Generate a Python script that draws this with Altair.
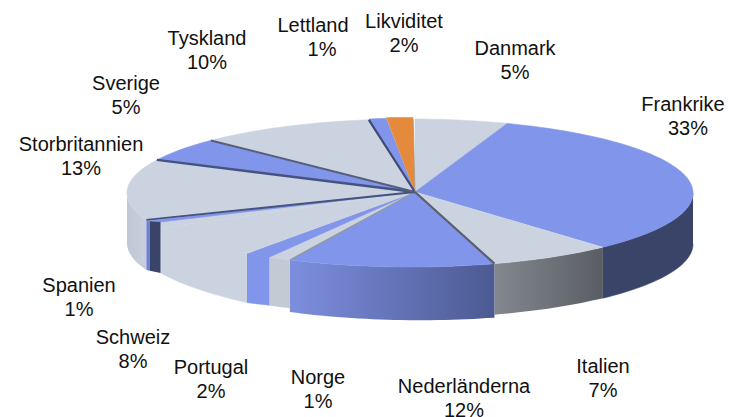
import math
import altair as alt
import pandas as pd

# Slice names, printed percentages and shares (clockwise from 12 o'clock)
names = ["Danmark", "Frankrike", "Italien", "Nederländerna", "Norge", "Portugal", "Schweiz",
         "Spanien", "Storbritannien", "Sverige", "Tyskland", "Lettland", "Likviditet"]
printed = [5, 33, 7, 12, 1, 2, 8, 1, 13, 5, 10, 1, 2]
shares = [5.3, 32.5, 7.1, 11.8, 1.3, 1.5, 7.4, 1.9, 13.3, 5.2, 10.1, 1.0, 1.5]

# Styles
GRAY, BLUE, DARK = "#CBD3E1", "#8196EA", "#3A4468"
top_colors = [GRAY, BLUE, GRAY, BLUE, GRAY, BLUE, GRAY, BLUE, GRAY, BLUE, GRAY, BLUE, "#E58A3C"]


def hgrad(a, b):
    return alt.Gradient(gradient="linear", x1=0, x2=1, y1=0, y2=0,
                        stops=[alt.GradientStop(offset=0, color=a), alt.GradientStop(offset=1, color=b)])


side_fills = {
    "Frankrike": DARK,
    "Italien": hgrad("#83888F", "#5A5E64"),
    "Nederländerna": hgrad("#7D8EDF", "#4C5A92"),
    "Norge": "#C4CAD3",
    "Portugal": BLUE,
    "Schweiz": GRAY,
    "Storbritannien": hgrad("#BFC7D5", "#C8D0DE"),
}
spanien_fill = alt.Gradient(gradient="linear", x1=0, x2=1, y1=0, y2=0, stops=[
    alt.GradientStop(offset=0, color="#6F82DA"), alt.GradientStop(offset=0.28, color="#6F82DA"),
    alt.GradientStop(offset=0.28, color=DARK), alt.GradientStop(offset=1, color=DARK)])

# Layout (page pixels)
CX, CY, RX, RY = 410.0, 193.0, 283.0, 74.0
APEX = (415.0, 192.0)
START = 1.0
wall_depth = {
    "Frankrike": (51, 51), "Italien": (51, 51), "Nederländerna": (54, 52), "Norge": (48, 48),
    "Portugal": (48, 49), "Schweiz": (49, 45), "Storbritannien": (50, 50),
}
rim_raise = {"Lettland": -0.8, "Likviditet": -1.6}
label_pos = {
    "Danmark": (515, 49), "Frankrike": (683, 105), "Italien": (603, 367),
    "Nederländerna": (464, 387), "Norge": (318, 378), "Portugal": (211, 368),
    "Schweiz": (133, 338), "Spanien": (79, 286), "Storbritannien": (81, 145),
    "Sverige": (126, 84), "Tyskland": (207, 39), "Lettland": (313, 26), "Likviditet": (404, 22),
}
pct_shift = {"Lettland": 9, "Frankrike": 5}
LINE_GAP = 23.5

xs = alt.Scale(domain=[8, 725], nice=False, zero=False)
ys = alt.Scale(domain=[417, 8], nice=False, zero=False)
X = alt.X("x:Q", scale=xs, axis=None)
Y = alt.Y("y:Q", scale=ys, axis=None)

edges = [START]
for s in shares:
    edges.append(edges[-1] + s * 3.6)


def rim(deg, dy=0.0):
    t = math.radians(deg)
    return CX + RX * math.sin(t), CY - RY * math.cos(t) + dy


def arc(a, b, dy_a=0.0, dy_b=0.0):
    n = max(2, int(abs(b - a) / 1.5) + 2)
    pts = []
    for k in range(n):
        f = k / (n - 1)
        pts.append(rim(a + (b - a) * f, dy_a + (dy_b - dy_a) * f))
    return pts


def face(points, fill):
    df = pd.DataFrame(points, columns=["x", "y"])
    df["i"] = range(len(df))
    stroke = fill if isinstance(fill, str) else None
    kw = {"stroke": stroke, "strokeWidth": 0.6} if stroke else {"strokeWidth": 0}
    return alt.Chart(df).mark_line(fill=fill, interpolate="linear", **kw).encode(
        x=X, y=Y, order=alt.Order("i:Q"))


def ray(deg, color, width):
    df = pd.DataFrame([APEX, rim(deg)], columns=["x", "y"])
    return alt.Chart(df).mark_line(color=color, strokeWidth=width).encode(x=X, y=Y)


layers = []
# outer wall, front half only
for i, n in enumerate(names):
    if n not in side_fills:
        continue
    a, b = max(edges[i], 90), min(edges[i + 1], 270)
    d_a, d_b = wall_depth[n]
    layers.append(face(arc(a, b) + arc(b, a, d_b, d_a), side_fills[n]))
# top faces; the Spanien sector is laid in gray, then its thin raised sliver and wall go over it
s_i = names.index("Spanien")
for i, n in enumerate(names):
    col = GRAY if n == "Spanien" else top_colors[i]
    r = rim_raise.get(n, 0.0)
    layers.append(face([APEX] + arc(edges[i], edges[i + 1], r, r), col))
s_a, s_b = edges[s_i], edges[s_i + 1]
layers.append(face([APEX, rim(s_a, -6), rim(s_b, 1)], top_colors[s_i]))
layers.append(face([rim(s_a, -6), rim(s_b, 1), rim(s_b, 50), rim(s_a, 45)], spanien_fill))
# inner walls seen as thin rays
for idx, col, w in [(3, "#5A5F6A", 2.2), (4, "#8E939C", 1.4), (8, "#46527F", 1.8),
                    (9, "#46527F", 2.4), (10, "#565E7C", 2.0), (11, "#3F4A76", 2.2), (13, "#A09A90", 0.8)]:
    layers.append(ray(edges[idx], col, w))

rows = []
for n, p in zip(names, printed):
    lx, ly = label_pos[n]
    rows.append({"x": lx, "y": ly, "t": n})
    rows.append({"x": lx + pct_shift.get(n, 0), "y": ly + LINE_GAP, "t": f"{p}%"})
labels = alt.Chart(pd.DataFrame(rows)).mark_text(
    font="Liberation Sans", fontSize=20, color="#111111", align="center", baseline="middle"
).encode(x=X, y=Y, text="t:N")
layers.append(labels)

chart = alt.layer(*layers).properties(
    width=717, height=409, padding=0, autosize=alt.AutoSizeParams(type="none")
).configure_view(stroke=None)
chart.save("out.html", embed_options={"renderer": "svg", "actions": False})
